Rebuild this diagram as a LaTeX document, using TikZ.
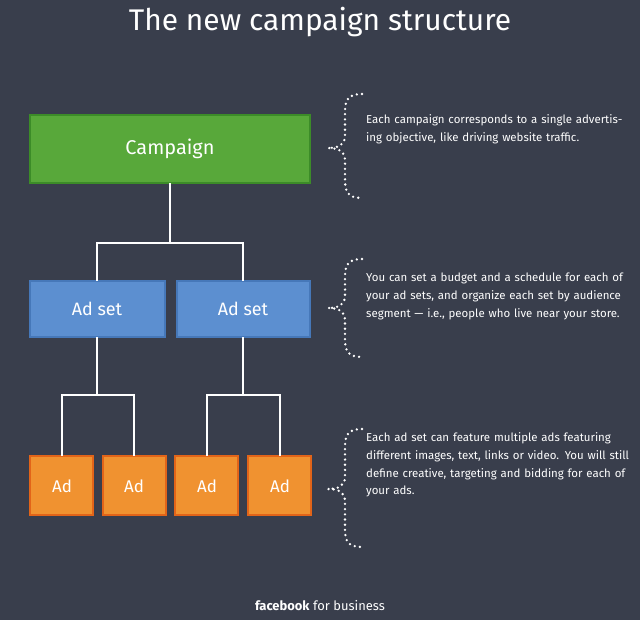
\documentclass[tikz,border=0pt]{standalone}
\usepackage{fontspec}
\setmainfont{Fira Sans}
\definecolor{bg}{RGB}{57,62,76}
\definecolor{gfill}{RGB}{88,168,58}
\definecolor{gdraw}{RGB}{60,140,40}
\definecolor{bfill}{RGB}{92,143,208}
\definecolor{bdraw}{RGB}{70,120,185}
\definecolor{ofill}{RGB}{240,146,48}
\definecolor{odraw}{RGB}{226,100,25}
\begin{document}
\begin{tikzpicture}[x=1bp,y=-1bp,
  conn/.style={draw=white,line width=2.2bp},
  camp/.style={draw=gdraw,line width=2bp,fill=gfill},
  adset/.style={draw=bdraw,line width=1.5bp,fill=bfill},
  adbox/.style={draw=odraw,line width=2bp,fill=ofill},
  brace/.style={draw=white,line width=2.6bp,line cap=round,dash pattern=on 0pt off 5.2bp},
  note/.style={anchor=north west,text=white,align=left,text width=265bp,font=\fontsize{11.5}{18}\selectfont,inner sep=0pt}]
\fill[bg] (0,0) rectangle (640,620);
\useasboundingbox (0,0) rectangle (640,620);
\node[text=white,font=\fontsize{30}{34}\selectfont] (title) at (320,22) {The new campaign structure};
\path[camp] (30,115) rectangle (310,183); \node[text=white,font=\fontsize{20}{24}\selectfont] (camp) at (170,149) {Campaign};
\coordinate (campb) at (170,183);
\path[adset] (30,281) rectangle (165,337); \node[text=white,font=\fontsize{18}{22}\selectfont] (as1) at (97,309) {Ad set};
\path[adset] (177,281) rectangle (310,337); \node[text=white,font=\fontsize{18}{22}\selectfont] (as2) at (243,309) {Ad set};
\path[adbox] (30,456) rectangle (93,515); \node[text=white,font=\fontsize{17}{20}\selectfont] (a1) at (62,486) {Ad};
\path[adbox] (103,456) rectangle (166,515); \node[text=white,font=\fontsize{17}{20}\selectfont] (a2) at (134,486) {Ad};
\path[adbox] (175,456) rectangle (238,515); \node[text=white,font=\fontsize{17}{20}\selectfont] (a3) at (207,486) {Ad};
\path[adbox] (248,456) rectangle (311,515); \node[text=white,font=\fontsize{17}{20}\selectfont] (a4) at (280,486) {Ad};
\coordinate (j1) at (170,243);
\draw[conn] (campb) -- (j1);
\draw[conn] (97,281) |- (j1) -| (243,281);
\coordinate (j2a) at (97,337); \coordinate (j2) at (97,395);
\draw[conn] (j2a) -- (j2); \draw[conn] (62,456) |- (j2) -| (134,456);
\coordinate (j3a) at (243,337); \coordinate (j3) at (243,395);
\draw[conn] (j3a) -- (j3); \draw[conn] (207,456) |- (j3) -| (280,456);
\foreach \t/\m/\b in {94/148/198, 259/308/357, 429/489/547}{
  \draw[brace] (362,\t) .. controls (348,\t) and (345,\t+6) .. (345,\t+18) -- (345,\m-12)
    .. controls (345,\m-3) and (338,\m) .. (328,\m)
    .. controls (338,\m) and (345,\m+3) .. (345,\m+12) -- (345,\b-18)
    .. controls (345,\b-6) and (348,\b) .. (362,\b);
}
\node[note] (n1) at (366,114) {Each campaign corresponds to a single advertising objective, like driving website traffic.};
\node[note] (n2) at (366,273) {You can set a budget and a schedule for each of your ad sets, and organize each set by audience segment — i.e., people who live near your store.};
\node[note] (n3) at (366,432) {Each ad set can feature multiple ads featuring different images, text, links or video. You will still define creative, targeting and bidding for each of your ads.};
\node[text=white,font=\fontsize{13}{15}\selectfont] (foot) at (320,606) {\textbf{facebook} for business};
\end{tikzpicture}
\end{document}
